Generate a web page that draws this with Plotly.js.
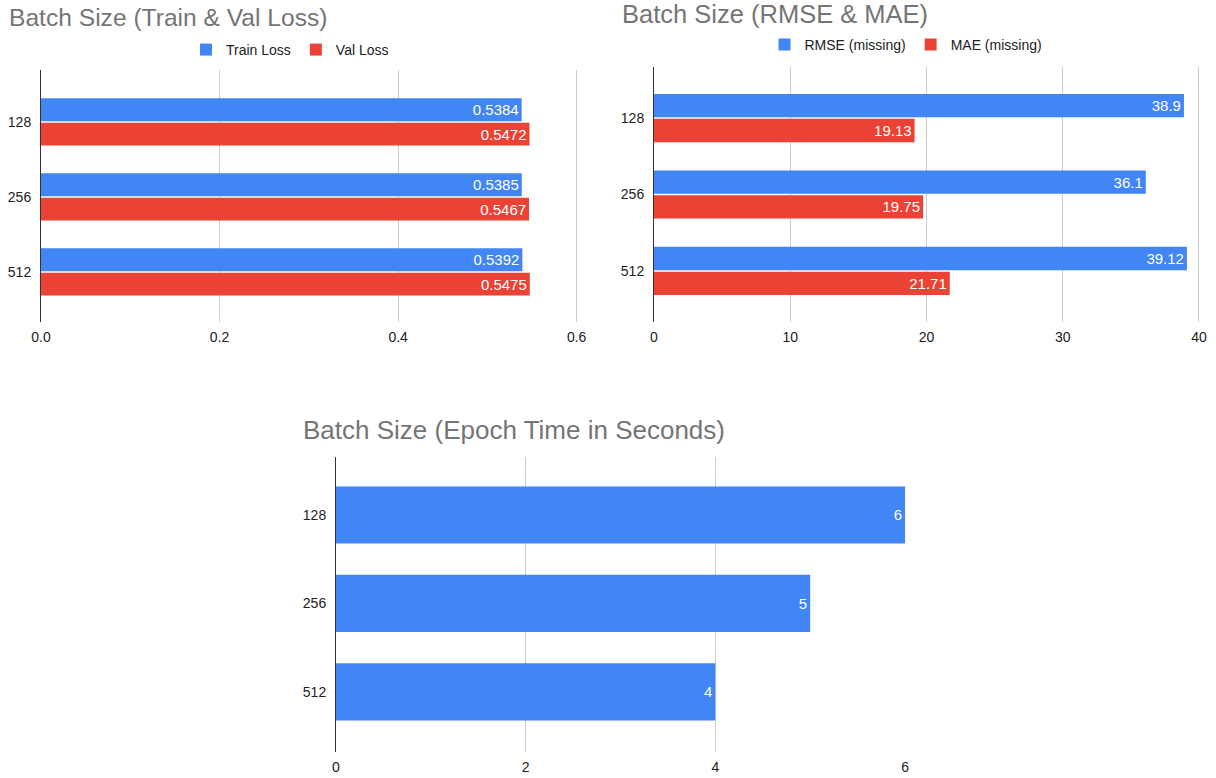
<!DOCTYPE html>
<html>
<head>
<meta charset="utf-8">
<script src="https://cdn.plot.ly/plotly-3.0.1.min.js"></script>
<style>html,body{margin:0;padding:0;background:#fff;}#chart{width:1216px;height:778px;}</style>
</head>
<body>
<div id="chart"></div>
<script>
const batchSizes = ['128', '256', '512'];
const trainLoss = [0.5384, 0.5385, 0.5392];
const valLoss = [0.5472, 0.5467, 0.5475];
const rmse = [38.9, 36.1, 39.12];
const mae = [19.13, 19.75, 21.71];
const epochTime = [6, 5, 4];
const titles = ['Batch Size (Train & Val Loss)', 'Batch Size (RMSE & MAE)', 'Batch Size (Epoch Time in Seconds)'];
const seriesNames = ['Train Loss', 'Val Loss', 'RMSE (missing)', 'MAE (missing)'];

const BLUE = '#4285F4', RED = '#EA4335';
const FONT = '"Liberation Sans", Arial, Helvetica, sans-serif';
const W = 1216, H = 778;
const px = v => v / W;
const py = v => 1 - v / H;

function barTrace(x, name, color, xa, ya, legend, fmt, extra) {
  return Object.assign({
    type: 'bar', orientation: 'h', y: batchSizes, x: x, name: name,
    xaxis: xa, yaxis: ya, legend: legend,
    marker: {color: color, line: {width: 0}},
    text: x.map(fmt), textposition: 'inside', insidetextanchor: 'end',
    textfont: {color: '#ffffff', size: 15, family: FONT},
    constraintext: 'none', cliponaxis: false
  }, extra || {});
}

const data = [
  barTrace(trainLoss, seriesNames[0], BLUE, 'x', 'y', 'legend', v => v.toFixed(4)),
  barTrace(valLoss, seriesNames[1], RED, 'x', 'y', 'legend', v => v.toFixed(4)),
  barTrace(rmse, seriesNames[2], BLUE, 'x2', 'y2', 'legend2', v => String(v)),
  barTrace(mae, seriesNames[3], RED, 'x2', 'y2', 'legend2', v => String(v)),
  barTrace(epochTime, 'Epoch Time', BLUE, 'x3', 'y3', 'legend', v => String(v), {showlegend: false, width: 0.645})
];

const tickFont = {family: FONT, size: 14, color: '#222222'};
function xAxis(domain, range, dtick, fmt, anchor) {
  return {domain: domain, range: range, dtick: dtick, tick0: 0, tickformat: fmt, anchor: anchor,
    showgrid: true, gridcolor: '#cccccc', gridwidth: 1, zeroline: false, showline: false,
    ticks: '', ticklabelstandoff: 5, tickfont: tickFont, fixedrange: true};
}
function yAxis(domain, range, anchor) {
  return {domain: domain, range: range, type: 'category', anchor: anchor,
    showgrid: false, zeroline: false, showline: true, linecolor: '#333333', linewidth: 1,
    ticks: '', ticklabelstandoff: 6, tickfont: tickFont, fixedrange: true};
}
const titleFont = size => ({family: FONT, size: size, color: '#757575'});
const legendFont = {family: FONT, size: 14, color: '#222222'};

const layout = {
  width: W, height: H,
  margin: {l: 0, r: 0, t: 0, b: 0},
  paper_bgcolor: '#ffffff', plot_bgcolor: '#ffffff',
  barmode: 'group', bargap: 0.35, bargroupgap: 0.06,
  font: {family: FONT},
  xaxis: xAxis([px(41), px(578)], [0, 0.6015], 0.2, '.1f', 'y'),
  yaxis: yAxis([py(322), py(70)], [2.667, -0.693], 'x'),
  xaxis2: xAxis([px(654), px(1200)], [0, 40.08], 10, 'd', 'y2'),
  yaxis2: yAxis([py(322), py(67)], [2.667, -0.667], 'x2'),
  xaxis3: xAxis([px(336), px(906)], [0, 6.01], 2, 'd', 'y3'),
  yaxis3: yAxis([py(752), py(457)], [2.68, -0.655], 'x3'),
  legend: {orientation: 'h', x: px(290), y: py(50), xanchor: 'center', yanchor: 'middle',
    font: legendFont, bgcolor: 'rgba(0,0,0,0)', itemwidth: 30, tracegroupgap: 0},
  legend2: {orientation: 'h', x: px(906), y: py(45), xanchor: 'center', yanchor: 'middle',
    font: legendFont, bgcolor: 'rgba(0,0,0,0)', itemwidth: 30, tracegroupgap: 0},
  annotations: [
    {text: titles[0], x: px(7), y: py(17), xref: 'paper', yref: 'paper', xanchor: 'left', yanchor: 'middle', showarrow: false, font: titleFont(24.6)},
    {text: titles[1], x: px(620), y: py(14), xref: 'paper', yref: 'paper', xanchor: 'left', yanchor: 'middle', showarrow: false, font: titleFont(25.5)},
    {text: titles[2], x: px(301), y: py(430), xref: 'paper', yref: 'paper', xanchor: 'left', yanchor: 'middle', showarrow: false, font: titleFont(26)}
  ]
};

Plotly.newPlot('chart', data, layout, {staticPlot: true, displayModeBar: false});
</script>
</body>
</html>
